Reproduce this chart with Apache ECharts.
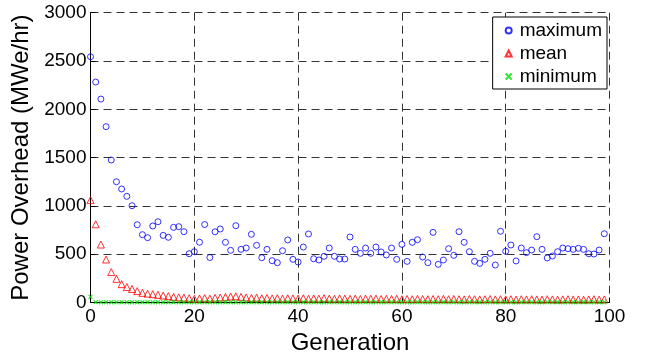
<!DOCTYPE html>
<html>
<head>
<meta charset="utf-8">
<script src="https://cdn.jsdelivr.net/npm/echarts@6/dist/echarts.min.js"></script>
<style>
html,body{margin:0;padding:0;background:#fff;}
#chart{width:645px;height:352px;}
</style>
</head>
<body>
<div id="chart"></div>
<script>
const generations = Array.from({length: 100}, (_, i) => i);
const maximumValues = [2544,2282,2106,1820,1475,1250,1175,1099,1002,805,
  702,671,792,836,695,675,778,785,733,505,
  526,624,807,466,732,761,623,540,795,550,
  564,706,592,464,550,433,412,536,647,447,
  419,574,709,453,440,478,564,478,450,450,
  678,550,509,564,509,574,523,492,564,447,
  602,426,623,650,471,412,726,395,440,557,
  488,733,623,526,426,405,447,509,388,737,
  530,595,430,564,516,543,681,550,461,481,
  526,564,557,550,561,550,505,502,543,712];
const meanValues = [1060,810,600,445,315,245,190,160,140,118,
  100,92,86,80,72,66,58,54,50,44,
  38,42,46,40,48,52,56,62,64,58,
  52,48,50,44,46,42,45,40,44,42,
  40,44,38,42,40,44,40,38,42,40,
  38,40,36,40,38,40,36,38,36,38,
  34,36,34,38,36,34,36,34,38,34,
  36,34,32,36,34,32,34,36,32,34,
  32,34,30,34,32,34,32,30,34,32,
  30,32,34,30,32,30,32,34,30,32];
const minimumValues = [58,4,3,3,3,3,3,3,3,3,
  3,3,3,3,3,3,3,3,3,3,
  3,3,3,3,3,3,3,3,3,3,
  3,3,3,3,3,3,3,3,3,3,
  3,3,3,3,3,3,3,3,3,3,
  3,3,3,3,3,3,3,3,3,3,
  3,3,3,3,3,3,3,3,3,3,
  3,3,3,3,3,3,3,3,3,3,
  3,3,3,3,3,3,3,3,3,3,
  3,3,3,3,3,3,3,3,3,3];
const seriesNames = ['maximum','mean','minimum'];
const xTitle = 'Generation';
const yTitle = 'Power Overhead (MWe/hr)';

const pair = arr => generations.map((g, i) => [g, arr[i]]);
const FONT = 'Liberation Sans, Arial, sans-serif';
const chart = echarts.init(document.getElementById('chart'), null, {renderer: 'canvas'});
const gridLine = {show: true, lineStyle: {color: '#333', width: 1, type: [8, 5]}};
chart.setOption({
  animation: false,
  backgroundColor: '#fff',
  grid: {left: 90.5, right: 35.5, top: 12.7, bottom: 49.5, containLabel: false, outerBoundsMode: 'none'},
  xAxis: {
    type: 'value', min: 0, max: 100, interval: 20,
    name: xTitle, nameLocation: 'middle', nameGap: 24,
    nameTextStyle: {fontSize: 24, color: '#000', fontFamily: FONT},
    axisLine: {show: true, onZero: false, lineStyle: {color: '#000', width: 1}},
    axisTick: {show: true, inside: true, length: 5, lineStyle: {color: '#000'}},
    axisLabel: {fontSize: 19, color: '#000', fontFamily: FONT, margin: 5, formatter: v => String(v)},
    splitLine: gridLine
  },
  yAxis: {
    type: 'value', min: 0, max: 3000, interval: 500,
    name: yTitle, nameLocation: 'middle', nameGap: 43,
    nameTextStyle: {fontSize: 24, color: '#000', fontFamily: FONT},
    axisLine: {show: true, onZero: false, lineStyle: {color: '#000', width: 1}},
    axisTick: {show: true, inside: true, length: 5, lineStyle: {color: '#000'}},
    axisLabel: {fontSize: 19, color: '#000', fontFamily: FONT, margin: 4, formatter: v => String(v)},
    splitLine: gridLine
  },
  legend: {
    orient: 'vertical', top: 17, right: 38,
    backgroundColor: '#fff', borderColor: '#000', borderWidth: 1,
    padding: [4, 5, 3, 12], itemGap: 4, itemWidth: 6, itemHeight: 6,
    textStyle: {fontSize: 19, color: '#000', fontFamily: FONT, lineHeight: 19, padding: [0, 0, 0, 3]},
    data: seriesNames
  },
  series: [
    {name: seriesNames[0], type: 'scatter', data: pair(maximumValues), symbol: 'circle', symbolSize: 6,
     itemStyle: {color: 'rgba(0,0,0,0)', borderColor: '#0000ff', borderWidth: 1}},
    {name: seriesNames[1], type: 'scatter', data: pair(meanValues), symbol: 'triangle', symbolSize: 7,
     itemStyle: {color: 'rgba(0,0,0,0)', borderColor: '#ff0000', borderWidth: 1}},
    {name: seriesNames[2], type: 'scatter', data: pair(minimumValues), symbol: 'path://M0,0L10,10M10,0L0,10', symbolSize: 4,
     itemStyle: {color: 'rgba(0,0,0,0)', borderColor: '#00dd00', borderWidth: 1.2}}
  ]
});
</script>
</body>
</html>
